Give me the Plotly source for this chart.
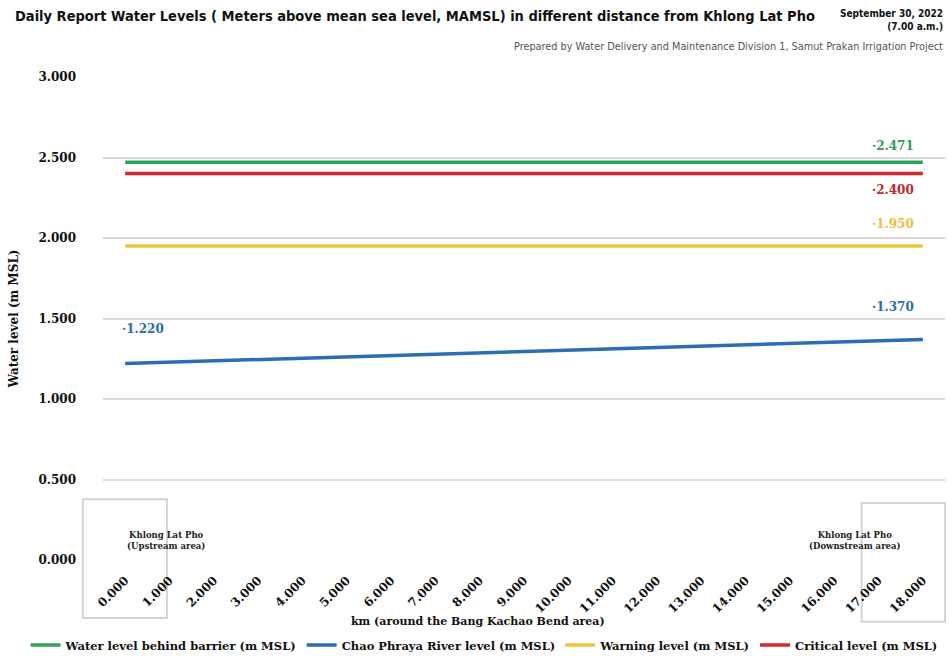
import plotly.graph_objects as go

categories = ["0.000", "1.000", "2.000", "3.000", "4.000", "5.000", "6.000", "7.000", "8.000", "9.000",
              "10.000", "11.000", "12.000", "13.000", "14.000", "15.000", "16.000", "17.000", "18.000"]
behind_barrier = [2.471] * 19
chao_phraya = [1.220] + [None] * 17 + [1.370]
warning = [1.950] * 19
critical = [2.400] * 19
y_ticks = [0, 0.5, 1.0, 1.5, 2.0, 2.5, 3.0]

series = [
    ("Water level behind barrier (m MSL)", behind_barrier, "#2ea15a", "#2e9b5c"),
    ("Chao Phraya River level (m MSL)", chao_phraya, "#2d6db4", "#2e6bb0"),
    ("Warning level (m MSL)", warning, "#f3c23f", "#f0c040"),
    ("Critical level (m MSL)", critical, "#d22a2b", "#c0282b"),
]

SERIF = "DejaVu Serif, Liberation Serif, serif"
NARROW = "DejaVu Sans Condensed, Liberation Sans Narrow, sans-serif"

fig = go.Figure()
for name, vals, col, _ in series:
    fig.add_trace(go.Scatter(x=categories, y=vals, mode="lines", name=name,
                             line=dict(color=col, width=3.5), connectgaps=True))

# data labels
def label(idx, vals, col, xs, ys):
    fig.add_annotation(x=categories[idx], y=vals[idx], text="·" + f"{vals[idx]:.3f}",
                       showarrow=False, xshift=xs, yshift=ys,
                       font=dict(family=SERIF, size=12, color=col, weight="bold"))

label(18, behind_barrier, series[0][3], -30, 16)
label(18, critical, series[3][3], -30, -16)
label(18, warning, series[2][3], -30, 22)
label(18, chao_phraya, series[1][3], -30, 32)
label(0, chao_phraya, series[1][3], 18, 35)

# boxes around the ends
for x0, x1, y0, y1, txt, tx in [
    (-0.024, 0.076, 0.126, -0.120, "Khlong Lat Pho<br>(Upstream area)", 0.026),
    (0.901, 1.000, 0.118, -0.128, "Khlong Lat Pho<br>(Downstream area)", 0.950),
]:
    fig.add_shape(type="rect", xref="paper", yref="paper", x0=x0, x1=x1, y0=y0, y1=y1,
                  line=dict(color="#d4d4d4", width=2), layer="below")
    fig.add_annotation(xref="paper", yref="paper", x=tx, y=0.041, yanchor="middle", text=txt,
                       showarrow=False,
                       font=dict(family=SERIF, size=8.5, color="#222", weight="bold"))

# titles
fig.add_annotation(xref="paper", yref="paper", x=-0.107, y=1.126, xanchor="left", yanchor="middle",
                   text="Daily Report Water Levels ( Meters above mean sea level, MAMSL) in different distance from Khlong Lat Pho",
                   showarrow=False, font=dict(family=NARROW, size=14.5, color="#111", weight="bold"))
fig.add_annotation(xref="paper", yref="paper", x=1.0, y=1.118, xanchor="right", yanchor="middle",
                   text="September 30, 2022<br>(7.00 a.m.)", align="right",
                   showarrow=False, font=dict(family=NARROW, size=10, color="#111", weight="bold"))
fig.add_annotation(xref="paper", yref="paper", x=1.0, y=1.064, xanchor="right", yanchor="middle",
                   text="Prepared by Water Delivery and Maintenance Division 1, Samut Prakan Irrigation Project",
                   showarrow=False, font=dict(family=NARROW, size=10.8, color="#555"))
fig.add_annotation(xref="paper", yref="paper", x=0.445, y=-0.128, xanchor="center", yanchor="middle",
                   text="km (around the Bang Kachao Bend area)",
                   showarrow=False, font=dict(family=SERIF, size=11, color="#111", weight="bold"))

fig.update_layout(
    width=949, height=656,
    margin=dict(l=103, r=4, t=77, b=96, autoexpand=False),
    paper_bgcolor="white", plot_bgcolor="white",
    showlegend=True,
    legend=dict(orientation="h", x=-0.092, xanchor="left", y=-0.176, yanchor="middle",
                font=dict(family=SERIF, size=11.5, color="#111", weight="bold"),
                itemwidth=30, tracegroupgap=0),
    xaxis=dict(type="category", range=[-0.5, 18.5], tickangle=-45, showgrid=False, zeroline=False,
               showline=False, automargin=False, ticklabelstandoff=10,
               tickfont=dict(family=SERIF, size=12, color="#111", weight="bold"), ticks=""),
    yaxis=dict(range=[0, 3], tickvals=y_ticks, tickformat=".3f", automargin=False,
               showgrid=True, gridcolor="#d9d9d9", gridwidth=2, zeroline=False, showline=False,
               tickfont=dict(family=SERIF, size=12, color="#111", weight="bold"),
               ticklabelstandoff=26,
               title=dict(text="Water level (m MSL)", standoff=17,
                          font=dict(family=SERIF, size=12, color="#111", weight="bold"))),
)

fig.write_html("out.html")
